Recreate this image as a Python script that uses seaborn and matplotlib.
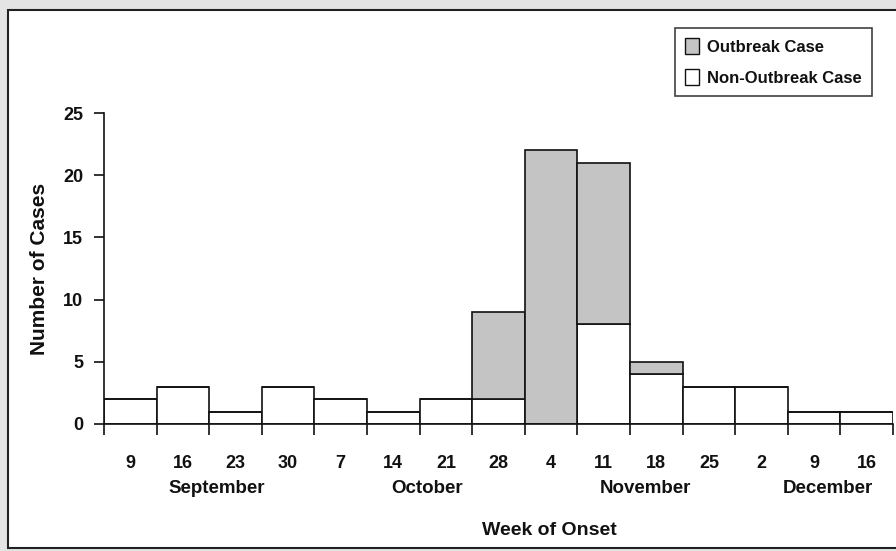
import pandas as pd
import matplotlib.pyplot as plt
import matplotlib.patches as mpatches
import matplotlib.transforms as mtransforms
import seaborn as sns

weeks = ['9', '16', '23', '30', '7', '14', '21', '28', '4', '11', '18', '25', '2', '9', '16']
non_outbreak = [2, 3, 1, 3, 2, 1, 2, 2, 0, 8, 4, 3, 3, 1, 1]
outbreak = [0, 0, 0, 0, 0, 0, 0, 7, 22, 13, 1, 0, 0, 0, 0]
months = ['September', 'October', 'November', 'December']
month_pos = [1.65, 5.64, 9.8, 13.26]

case_types = ['Outbreak Case', 'Non-Outbreak Case']
colors = {'Outbreak Case': '#c4c4c4', 'Non-Outbreak Case': 'white'}

rows = []
for i in range(len(weeks)):
    rows.append({'week': i, 'type': 'Non-Outbreak Case', 'count': non_outbreak[i]})
    rows.append({'week': i, 'type': 'Outbreak Case', 'count': outbreak[i]})
df = pd.DataFrame(rows)

sns.set_style('white')
plt.rcParams['font.family'] = ['Liberation Sans', 'DejaVu Sans']
plt.rcParams['font.weight'] = 'bold'
plt.rcParams['text.color'] = '#111111'
plt.rcParams['axes.labelcolor'] = '#111111'
plt.rcParams['xtick.color'] = '#111111'
plt.rcParams['ytick.color'] = '#111111'

fig = plt.figure(figsize=(8.96, 5.51), dpi=100, facecolor='#e4e4e4')
# white panel with dark frame
panel = mpatches.Rectangle((8 / 896, 3 / 551), 1.0, 1 - 13 / 551, transform=fig.transFigure,
                           facecolor='white', edgecolor='#222222', linewidth=1.5, zorder=-5)
fig.patches.append(panel)

ax = fig.add_axes([104 / 896, 1 - 424 / 551, 789 / 896, 311 / 551])
ax.set_facecolor('none')
ax.set_zorder(2)

sns.histplot(data=df, x='week', weights='count', hue='type', hue_order=case_types,
             multiple='stack', discrete=True, palette=colors, edgecolor='#111111',
             linewidth=1.2, alpha=1, legend=False, ax=ax)

ax.set_xlim(-0.5, len(weeks) - 0.5)
ax.set_ylim(0, 25)
ax.set_yticks([0, 5, 10, 15, 20, 25])
ax.set_xticks([i - 0.5 for i in range(len(weeks) + 1)])
ax.set_xticklabels([])
ax.set_xticks(range(len(weeks)), minor=True)
ax.set_xticklabels(weeks, minor=True, fontsize=13, fontweight='bold')
ax.tick_params(axis='x', which='major', direction='out', length=8, width=1.2, bottom=True)
ax.tick_params(axis='x', which='minor', length=0, pad=22)
ax.tick_params(axis='y', direction='out', length=7, width=1.2, left=True,
               labelsize=13, pad=8)
for lab in ax.get_yticklabels():
    lab.set_fontweight('bold')

sns.despine(ax=ax)
for s in ['left', 'bottom']:
    ax.spines[s].set_color('#111111')
    ax.spines[s].set_linewidth(1.2)

ax.set_xlabel('')
ax.set_ylabel('Number of Cases', fontsize=15, fontweight='bold')
ax.yaxis.set_label_coords(-0.07, 0.5)

trans = mtransforms.blended_transform_factory(ax.transData, ax.transAxes)
for m, p in zip(months, month_pos):
    ax.text(p, -0.206, m, transform=trans, ha='center', va='center', fontsize=13.5, fontweight='bold')
ax.text(7.97, -0.341, 'Week of Onset', transform=trans, ha='center', va='center',
        fontsize=14, fontweight='bold')

handles = [mpatches.Patch(facecolor=colors[c], edgecolor='#111111', linewidth=1, label=c) for c in case_types]
leg = fig.legend(handles=handles, loc='upper right', bbox_to_anchor=(0.973, 0.949),
                 frameon=True, fancybox=False, edgecolor='#111111', fontsize=12,
                 handlelength=0.8, handleheight=1.1, handletextpad=0.5, borderpad=0.6,
                 labelspacing=0.85, borderaxespad=0)
leg.get_frame().set_linewidth(1.2)
leg.set_zorder(3)
for t in leg.get_texts():
    t.set_fontweight('bold')

fig.savefig('out.png', dpi=100, facecolor=fig.get_facecolor())
